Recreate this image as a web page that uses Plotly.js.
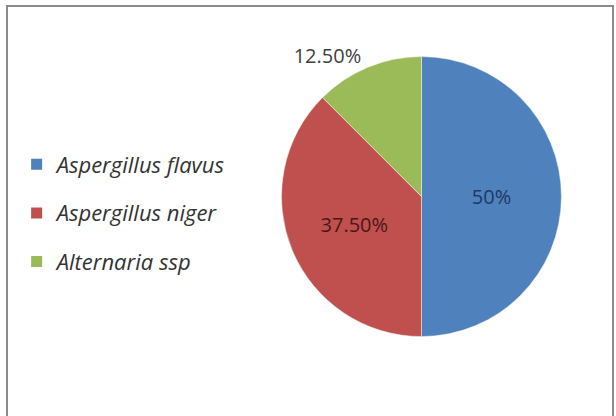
<!DOCTYPE html>
<html>
<head>
<meta charset="utf-8">
<script src="https://cdn.plot.ly/plotly-3.0.1.min.js"></script>
<style>html,body{margin:0;padding:0;background:#fff;}#chart{width:616px;height:416px;}</style>
</head>
<body>
<div id="chart"></div>
<script>
const categories = ['Aspergillus flavus', 'Aspergillus niger', 'Alternaria ssp'];
const values = [50, 37.5, 12.5];
const sliceLabels = ['50%', '37.50%', '12.50%'];
const colors = ['#4F81BD', '#C0504D', '#9BBB59'];
const labelColors = ['#1F3864', '#4A1716', '#404040'];

const FONT = 'Open Sans, sans-serif';

const pieTrace = {
  type: 'pie',
  labels: categories,
  values: values,
  text: sliceLabels,
  textinfo: 'text',
  hoverinfo: 'label+text',
  sort: false,
  direction: 'clockwise',
  rotation: 0,
  marker: { colors: colors, line: { color: '#f4f4f4', width: 0.5 } },
  textposition: ['inside', 'inside', 'outside'],
  insidetextorientation: 'horizontal',
  textfont: { family: FONT, size: 20, color: labelColors },
  outsidetextfont: { family: FONT, size: 20, color: '#404040' },
  domain: { x: [0.457, 0.9115], y: [0.191, 0.864] },
  showlegend: false
};

// Legend entries (one per category) so that the legend rows can be spaced like the original
const legendTraces = categories.map((name, i) => ({
  type: 'scatter',
  mode: 'markers',
  x: [null],
  y: [null],
  name: name,
  legendgroup: 'g' + i,
  marker: { symbol: 'square', size: 11, color: colors[i] },
  hoverinfo: 'skip',
  showlegend: true
}));

const layout = {
  width: 616,
  height: 416,
  margin: { l: 0, r: 0, t: 0, b: 0 },
  paper_bgcolor: '#ffffff',
  plot_bgcolor: 'rgba(0,0,0,0)',
  showlegend: true,
  xaxis: { visible: false, showgrid: false, zeroline: false, domain: [0, 0.01] },
  yaxis: { visible: false, showgrid: false, zeroline: false, domain: [0, 0.01] },
  legend: {
    x: 0.027, xanchor: 'left',
    y: 0.488, yanchor: 'middle',
    itemwidth: 30,
    tracegroupgap: 17,
    traceorder: 'grouped',
    font: { family: FONT, size: 22, color: '#333333', style: 'italic' },
    bgcolor: 'rgba(0,0,0,0)'
  },
  shapes: [{
    type: 'rect', xref: 'paper', yref: 'paper',
    x0: 7/616, x1: 613/616, y0: -0.05, y1: (416-6)/416,
    line: { color: '#8a8a8a', width: 2 }
  }]
};

Plotly.newPlot('chart', [pieTrace].concat(legendTraces), layout, { displayModeBar: false, staticPlot: true });
</script>
</body>
</html>
